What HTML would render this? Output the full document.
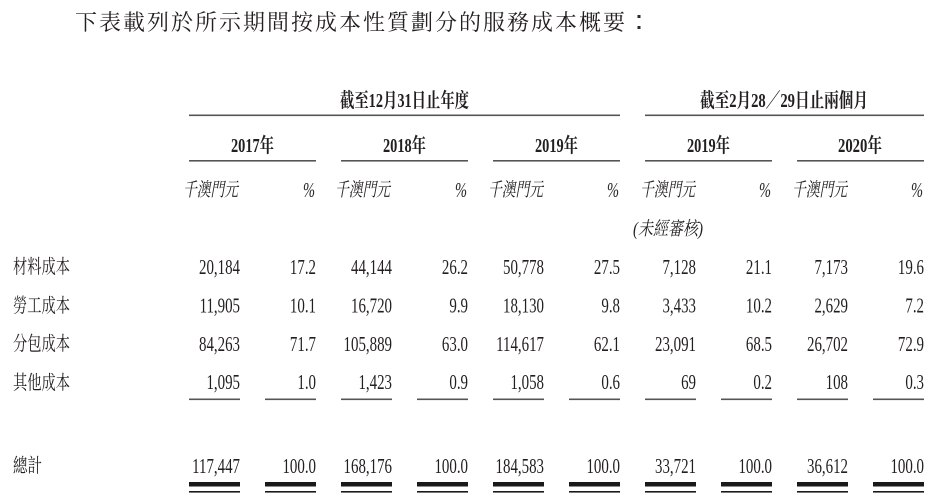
<!DOCTYPE html>
<html><head><meta charset="utf-8"><style>
html,body{margin:0;padding:0;background:#fff;}
svg{display:block;}
.n{font-family:"Liberation Serif","Noto Serif CJK SC",serif;font-size:21px;fill:#231f20;}
.c{font-family:"Liberation Serif","Noto Serif CJK SC",serif;fill:#231f20;}
</style></head><body>
<svg width="937" height="503" viewBox="0 0 937 503" xmlns="http://www.w3.org/2000/svg">
<text class="c" x="75" y="30" font-size="22" textLength="550" lengthAdjust="spacing" fill="#2b2b2b">下表載列於所示期間按成本性質劃分的服務成本概要</text>
<rect x="637.5" y="15" width="3" height="3" fill="#2b2b2b"/>
<rect x="637.5" y="26" width="3" height="3" fill="#2b2b2b"/>

<text class="c" x="340" y="107" font-size="20" font-weight="bold" textLength="129" lengthAdjust="spacingAndGlyphs">截至12月31日止年度</text>
<text class="c" x="700" y="107" font-size="20" font-weight="bold" textLength="168" lengthAdjust="spacingAndGlyphs">截至2月28／29日止兩個月</text>
<rect x="189" y="114.5" width="431" height="1.6" fill="#555"/>
<rect x="645" y="114.5" width="279" height="1.6" fill="#555"/>

<g font-size="20" font-weight="bold">
<text class="c" x="231" y="152" font-size="20" textLength="43" lengthAdjust="spacingAndGlyphs">2017年</text>
<text class="c" x="383" y="152" font-size="20" textLength="43" lengthAdjust="spacingAndGlyphs">2018年</text>
<text class="c" x="535" y="152" font-size="20" textLength="43" lengthAdjust="spacingAndGlyphs">2019年</text>
<text class="c" x="687" y="152" font-size="20" textLength="43" lengthAdjust="spacingAndGlyphs">2019年</text>
<text class="c" x="838" y="152" font-size="20" textLength="44" lengthAdjust="spacingAndGlyphs">2020年</text>
</g>
<g fill="#555">
<rect x="189" y="160" width="127" height="1.6"/>
<rect x="341" y="160" width="127" height="1.6"/>
<rect x="493" y="160" width="127" height="1.6"/>
<rect x="645" y="160" width="127" height="1.6"/>
<rect x="797" y="160" width="127" height="1.6"/>
</g>

<g font-style="italic">
<text class="c" x="183" y="196" font-size="19" textLength="55" lengthAdjust="spacingAndGlyphs">千澳門元</text>
<text class="c" x="335" y="196" font-size="19" textLength="55" lengthAdjust="spacingAndGlyphs">千澳門元</text>
<text class="c" x="488" y="196" font-size="19" textLength="55" lengthAdjust="spacingAndGlyphs">千澳門元</text>
<text class="c" x="640" y="196" font-size="19" textLength="55" lengthAdjust="spacingAndGlyphs">千澳門元</text>
<text class="c" x="792" y="196" font-size="19" textLength="55" lengthAdjust="spacingAndGlyphs">千澳門元</text>
<text class="c" x="303" y="197" font-size="21" textLength="12" lengthAdjust="spacingAndGlyphs">%</text>
<text class="c" x="455" y="197" font-size="21" textLength="12" lengthAdjust="spacingAndGlyphs">%</text>
<text class="c" x="607" y="197" font-size="21" textLength="12" lengthAdjust="spacingAndGlyphs">%</text>
<text class="c" x="759" y="197" font-size="21" textLength="12" lengthAdjust="spacingAndGlyphs">%</text>
<text class="c" x="911" y="197" font-size="21" textLength="12" lengthAdjust="spacingAndGlyphs">%</text>
<text class="c" x="633" y="235" font-size="19" textLength="70" lengthAdjust="spacingAndGlyphs">(未經審核)</text>
</g>

<g font-size="19.5">
<text class="c" x="13" y="273" font-size="19.5" textLength="57" lengthAdjust="spacingAndGlyphs">材料成本</text>
<text class="c" x="13" y="312" font-size="19.5" textLength="57" lengthAdjust="spacingAndGlyphs">勞工成本</text>
<text class="c" x="13" y="350" font-size="19.5" textLength="57" lengthAdjust="spacingAndGlyphs">分包成本</text>
<text class="c" x="13" y="389" font-size="19.5" textLength="57" lengthAdjust="spacingAndGlyphs">其他成本</text>
<text class="c" x="13" y="472" font-size="19.5" textLength="29" lengthAdjust="spacingAndGlyphs">總計</text>
</g>

<g class="n" text-anchor="end">
<text transform="translate(240,274) scale(0.71,1)">20,184</text>
<text transform="translate(316,274) scale(0.71,1)">17.2</text>
<text transform="translate(392,274) scale(0.71,1)">44,144</text>
<text transform="translate(468,274) scale(0.71,1)">26.2</text>
<text transform="translate(544,274) scale(0.71,1)">50,778</text>
<text transform="translate(620,274) scale(0.71,1)">27.5</text>
<text transform="translate(696,274) scale(0.71,1)">7,128</text>
<text transform="translate(772,274) scale(0.71,1)">21.1</text>
<text transform="translate(848,274) scale(0.71,1)">7,173</text>
<text transform="translate(924,274) scale(0.71,1)">19.6</text>
<text transform="translate(240,312.5) scale(0.71,1)">11,905</text>
<text transform="translate(316,312.5) scale(0.71,1)">10.1</text>
<text transform="translate(392,312.5) scale(0.71,1)">16,720</text>
<text transform="translate(468,312.5) scale(0.71,1)">9.9</text>
<text transform="translate(544,312.5) scale(0.71,1)">18,130</text>
<text transform="translate(620,312.5) scale(0.71,1)">9.8</text>
<text transform="translate(696,312.5) scale(0.71,1)">3,433</text>
<text transform="translate(772,312.5) scale(0.71,1)">10.2</text>
<text transform="translate(848,312.5) scale(0.71,1)">2,629</text>
<text transform="translate(924,312.5) scale(0.71,1)">7.2</text>
<text transform="translate(240,351) scale(0.71,1)">84,263</text>
<text transform="translate(316,351) scale(0.71,1)">71.7</text>
<text transform="translate(392,351) scale(0.71,1)">105,889</text>
<text transform="translate(468,351) scale(0.71,1)">63.0</text>
<text transform="translate(544,351) scale(0.71,1)">114,617</text>
<text transform="translate(620,351) scale(0.71,1)">62.1</text>
<text transform="translate(696,351) scale(0.71,1)">23,091</text>
<text transform="translate(772,351) scale(0.71,1)">68.5</text>
<text transform="translate(848,351) scale(0.71,1)">26,702</text>
<text transform="translate(924,351) scale(0.71,1)">72.9</text>
<text transform="translate(240,389) scale(0.71,1)">1,095</text>
<text transform="translate(316,389) scale(0.71,1)">1.0</text>
<text transform="translate(392,389) scale(0.71,1)">1,423</text>
<text transform="translate(468,389) scale(0.71,1)">0.9</text>
<text transform="translate(544,389) scale(0.71,1)">1,058</text>
<text transform="translate(620,389) scale(0.71,1)">0.6</text>
<text transform="translate(696,389) scale(0.71,1)">69</text>
<text transform="translate(772,389) scale(0.71,1)">0.2</text>
<text transform="translate(848,389) scale(0.71,1)">108</text>
<text transform="translate(924,389) scale(0.71,1)">0.3</text>
<text transform="translate(240,473) scale(0.71,1)">117,447</text>
<text transform="translate(316,473) scale(0.71,1)">100.0</text>
<text transform="translate(392,473) scale(0.71,1)">168,176</text>
<text transform="translate(468,473) scale(0.71,1)">100.0</text>
<text transform="translate(544,473) scale(0.71,1)">184,583</text>
<text transform="translate(620,473) scale(0.71,1)">100.0</text>
<text transform="translate(696,473) scale(0.71,1)">33,721</text>
<text transform="translate(772,473) scale(0.71,1)">100.0</text>
<text transform="translate(848,473) scale(0.71,1)">36,612</text>
<text transform="translate(924,473) scale(0.71,1)">100.0</text>
</g>

<g fill="#555">
<rect x="189" y="398.5" width="51" height="1.6"/>
<rect x="265" y="398.5" width="51" height="1.6"/>
<rect x="341" y="398.5" width="51" height="1.6"/>
<rect x="417" y="398.5" width="51" height="1.6"/>
<rect x="493" y="398.5" width="51" height="1.6"/>
<rect x="569" y="398.5" width="51" height="1.6"/>
<rect x="645" y="398.5" width="51" height="1.6"/>
<rect x="721" y="398.5" width="51" height="1.6"/>
<rect x="797" y="398.5" width="51" height="1.6"/>
<rect x="873" y="398.5" width="51" height="1.6"/>
</g>

<g fill="#1a1a1a">
<rect x="189" y="482" width="51" height="4.5"/><rect x="189" y="491" width="51" height="1.6"/>
<rect x="265" y="482" width="51" height="4.5"/><rect x="265" y="491" width="51" height="1.6"/>
<rect x="341" y="482" width="51" height="4.5"/><rect x="341" y="491" width="51" height="1.6"/>
<rect x="417" y="482" width="51" height="4.5"/><rect x="417" y="491" width="51" height="1.6"/>
<rect x="493" y="482" width="51" height="4.5"/><rect x="493" y="491" width="51" height="1.6"/>
<rect x="569" y="482" width="51" height="4.5"/><rect x="569" y="491" width="51" height="1.6"/>
<rect x="645" y="482" width="51" height="4.5"/><rect x="645" y="491" width="51" height="1.6"/>
<rect x="721" y="482" width="51" height="4.5"/><rect x="721" y="491" width="51" height="1.6"/>
<rect x="797" y="482" width="51" height="4.5"/><rect x="797" y="491" width="51" height="1.6"/>
<rect x="873" y="482" width="51" height="4.5"/><rect x="873" y="491" width="51" height="1.6"/>
</g>
</svg>
</body></html>
